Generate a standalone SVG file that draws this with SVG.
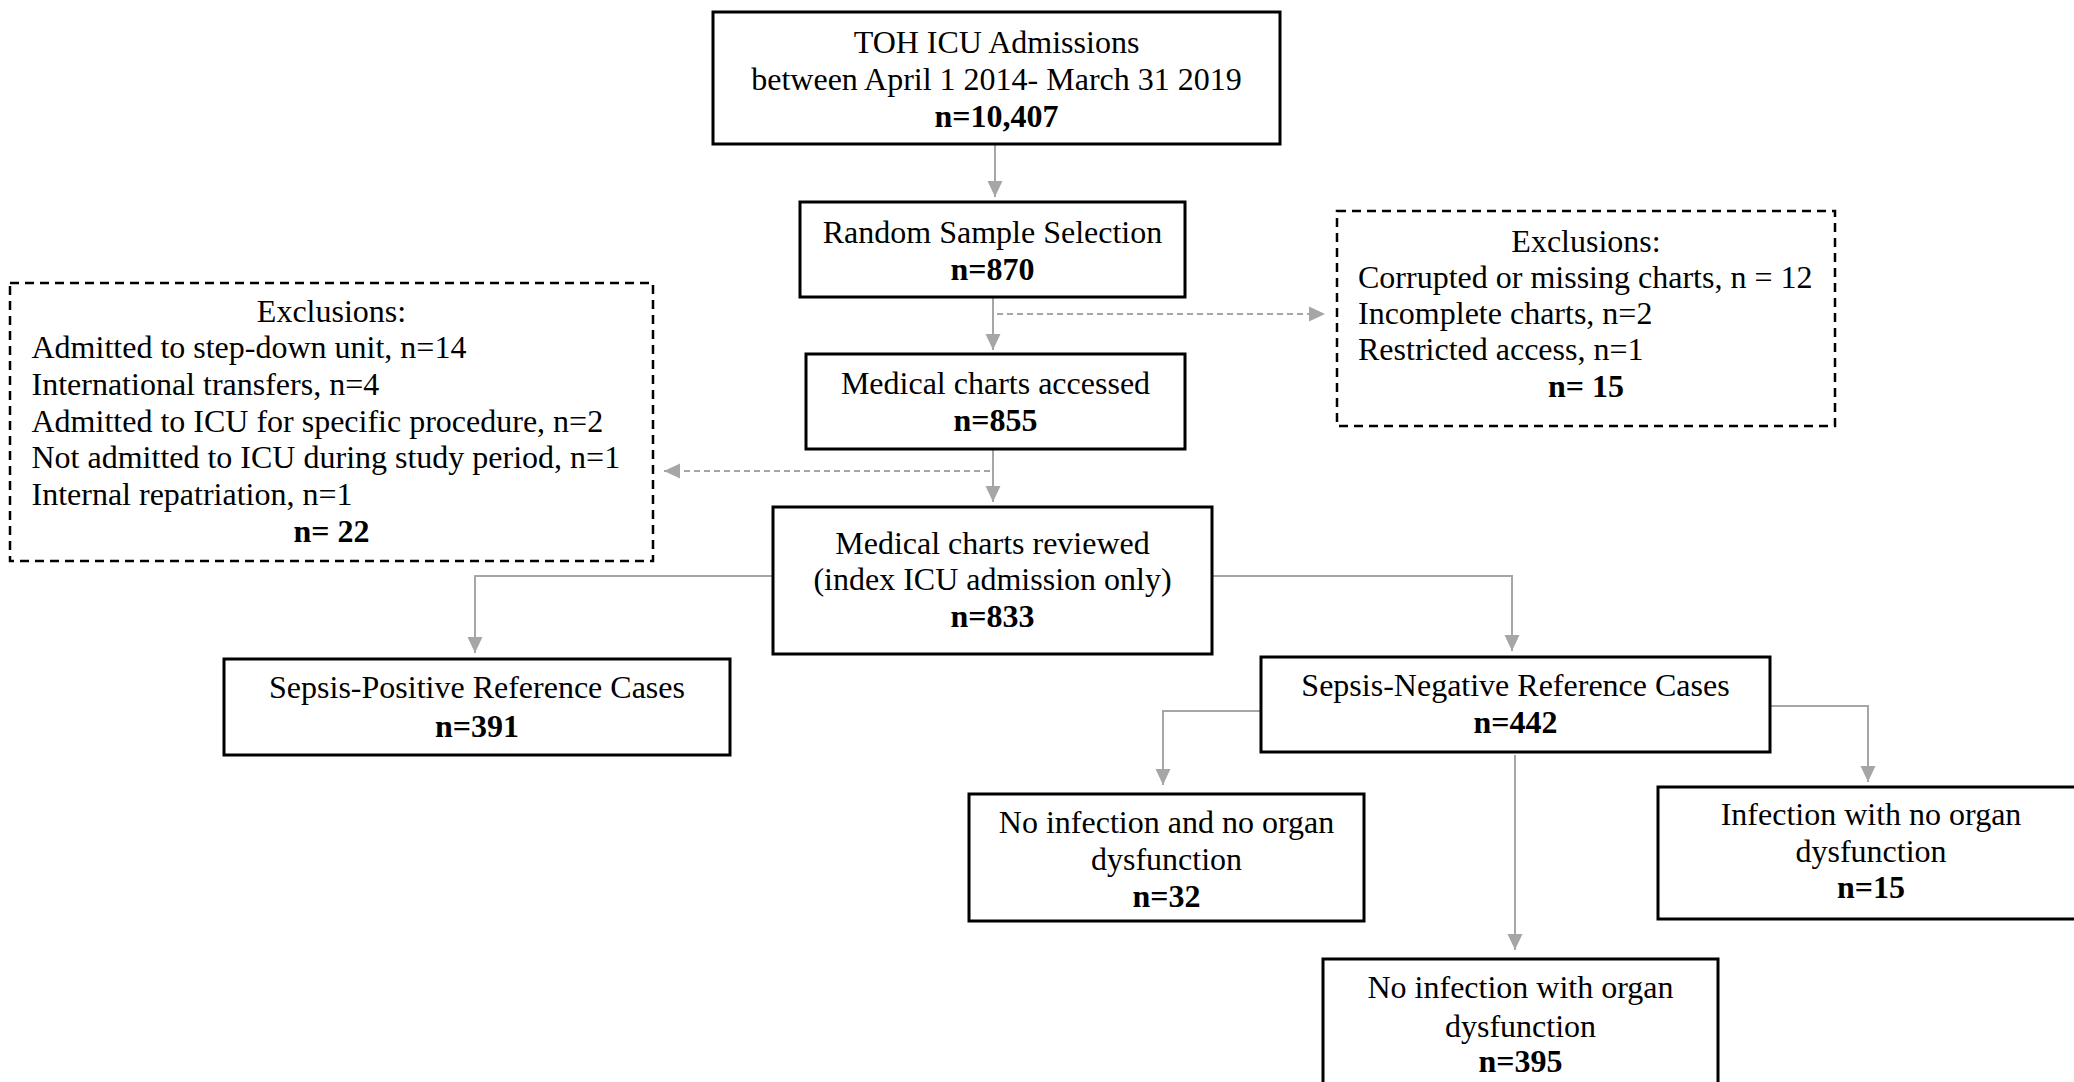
<svg xmlns="http://www.w3.org/2000/svg" width="2074" height="1082" viewBox="0 0 2074 1082">
<style>
  text { font-family: "Liberation Serif", "Times New Roman", serif; font-size: 32px; fill: #000; }
  .c { text-anchor: middle; }
  .b { font-weight: bold; }
  .box { fill: #fff; stroke: #000; stroke-width: 3; }
  .dbox { fill: #fff; stroke: #000; stroke-width: 2.5; stroke-dasharray: 9 6; }
  .conn { fill: none; stroke: #A6A6A6; stroke-width: 2; }
  .dconn { fill: none; stroke: #A6A6A6; stroke-width: 1.8; stroke-dasharray: 6 4; }
</style>
<defs>
  <marker id="arr" markerUnits="userSpaceOnUse" markerWidth="16" markerHeight="16" viewBox="0 0 15 14" refX="15" refY="7" orient="auto">
    <path d="M0,0 L15,7 L0,14 Z" fill="#A6A6A6"/>
  </marker>
</defs>
<rect width="2074" height="1082" fill="#fff"/>

<g id="connectors">
  <path class="conn" d="M995,144 L995,197" marker-end="url(#arr)"/>
  <path class="conn" d="M993,297 L993,350" marker-end="url(#arr)"/>
  <path class="dconn" d="M997,314 L1325,314" marker-end="url(#arr)"/>
  <path class="conn" d="M993,449 L993,502" marker-end="url(#arr)"/>
  <path class="dconn" d="M990,471 L664,471" marker-end="url(#arr)"/>
  <path class="conn" d="M773,576 L475,576 L475,653" marker-end="url(#arr)"/>
  <path class="conn" d="M1212,576 L1512,576 L1512,651" marker-end="url(#arr)"/>
  <path class="conn" d="M1261,711 L1163,711 L1163,785" marker-end="url(#arr)"/>
  <path class="conn" d="M1515,755 L1515,950" marker-end="url(#arr)"/>
  <path class="conn" d="M1770,706 L1868,706 L1868,782" marker-end="url(#arr)"/>
</g>

<g id="admissions">
  <rect class="box" x="713" y="12" width="567" height="132"/>
  <text class="c" x="996.5" y="53">TOH ICU Admissions</text>
  <text class="c" x="996.5" y="90">between April 1 2014- March 31 2019</text>
  <text class="c b" x="996.5" y="127">n=10,407</text>
</g>

<g id="random-sample">
  <rect class="box" x="800" y="202" width="385" height="95"/>
  <text class="c" x="992.5" y="243">Random Sample Selection</text>
  <text class="c b" x="992.5" y="280">n=870</text>
</g>

<g id="exclusions-right">
  <rect class="dbox" x="1337" y="211" width="498" height="215"/>
  <text class="c" x="1586" y="252">Exclusions:</text>
  <text x="1358" y="288">Corrupted or missing charts, n = 12</text>
  <text x="1358" y="324">Incomplete charts, n=2</text>
  <text x="1358" y="360">Restricted access, n=1</text>
  <text class="c b" x="1586" y="397">n= 15</text>
</g>

<g id="charts-accessed">
  <rect class="box" x="806" y="354" width="379" height="95"/>
  <text class="c" x="995.5" y="394">Medical charts accessed</text>
  <text class="c b" x="995.5" y="431">n=855</text>
</g>

<g id="exclusions-left">
  <rect class="dbox" x="10" y="283" width="643" height="278"/>
  <text class="c" x="331.5" y="322">Exclusions:</text>
  <text x="31.5" y="358">Admitted to step-down unit, n=14</text>
  <text x="31.5" y="395">International transfers, n=4</text>
  <text x="31.5" y="432">Admitted to ICU for specific procedure, n=2</text>
  <text x="31.5" y="468">Not admitted to ICU during study period, n=1</text>
  <text x="31.5" y="505">Internal repatriation, n=1</text>
  <text class="c b" x="331.5" y="542">n= 22</text>
</g>

<g id="charts-reviewed">
  <rect class="box" x="773" y="507" width="439" height="147"/>
  <text class="c" x="992.5" y="554">Medical charts reviewed</text>
  <text class="c" x="992.5" y="590">(index ICU admission only)</text>
  <text class="c b" x="992.5" y="627">n=833</text>
</g>

<g id="sepsis-positive">
  <rect class="box" x="224" y="659" width="506" height="96"/>
  <text class="c" x="477" y="698">Sepsis-Positive Reference Cases</text>
  <text class="c b" x="477" y="737">n=391</text>
</g>

<g id="sepsis-negative">
  <rect class="box" x="1261" y="657" width="509" height="95"/>
  <text class="c" x="1515.5" y="696">Sepsis-Negative Reference Cases</text>
  <text class="c b" x="1515.5" y="733">n=442</text>
</g>

<g id="no-infection-no-organ">
  <rect class="box" x="969" y="794" width="395" height="127"/>
  <text class="c" x="1166.5" y="833">No infection and no organ</text>
  <text class="c" x="1166.5" y="870">dysfunction</text>
  <text class="c b" x="1166.5" y="907">n=32</text>
</g>

<g id="no-infection-with-organ">
  <rect class="box" x="1323" y="959" width="395" height="140"/>
  <text class="c" x="1520.5" y="998">No infection with organ</text>
  <text class="c" x="1520.5" y="1037">dysfunction</text>
  <text class="c b" x="1520.5" y="1072">n=395</text>
</g>

<g id="infection-no-organ">
  <rect class="box" x="1658" y="787" width="426" height="132"/>
  <text class="c" x="1871" y="825">Infection with no organ</text>
  <text class="c" x="1871" y="862">dysfunction</text>
  <text class="c b" x="1871" y="898">n=15</text>
</g>
</svg>
